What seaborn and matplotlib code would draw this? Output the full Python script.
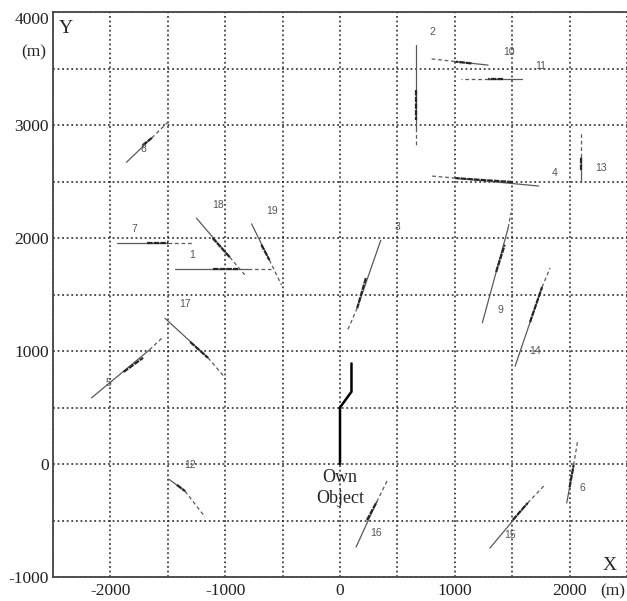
import numpy as np
import pandas as pd
import matplotlib
matplotlib.use("Agg")
import matplotlib.pyplot as plt
import seaborn as sns

# track numbers and the points (metres)
# p0 = start of solid part, p1/p2 = dense (marked) part, p3 = end of solid, p4 = end of dashed
track_ids = ["8", "7", "1", "18", "19", "17", "5", "12", "3", "16",
             "15", "6", "14", "9", "2", "10", "11", "4", "13"]
x0 = [-1860, -1940, -1440, -1250, -770, -1525, -2165, -1490, 355, 140,
      1305, 1975, 1525, 1240, 660, 1290, 1585, 1730, 2095]
y0 = [2670, 1955, 1725, 2175, 2125, 1290, 585, -135, 1980, -735,
      -745, -345, 865, 1250, 3710, 3530, 3407, 2460, 2495]
x1 = [-1720, -1680, -1110, -1110, -685, -1305, -1885, -1420, 225, 235,
      1505, 2000, 1655, 1360, 660, 1145, 1420, 1505, 2095]
y1 = [2820, 1955, 1725, 2000, 1940, 1080, 815, -185, 1645, -495,
      -495, -205, 1255, 1700, 3310, 3545, 3407, 2495, 2600]
x2 = [-1640, -1500, -890, -960, -615, -1150, -1715, -1350, 150, 320,
      1635, 2035, 1760, 1435, 660, 1010, 1290, 1005, 2095]
y2 = [2885, 1955, 1725, 1830, 1805, 940, 940, -240, 1380, -335,
      -345, -10, 1565, 1940, 3045, 3560, 3407, 2530, 2715]
x3 = [-1640, -1500, -805, -960, -615, -1150, -1660, -1350, 150, 320,
      1635, 2035, 1760, 1465, 660, 1000, 1290, 1005, 2095]
y3 = [2885, 1955, 1725, 1830, 1805, 940, 1010, -240, 1380, -335,
      -345, -10, 1565, 2090, 2975, 3562, 3407, 2530, 2715]
x4 = [-1500, -1270, -600, -830, -510, -1015, -1540, -1175, 60, 415,
      1775, 2070, 1830, 1490, 660, 795, 1055, 780, 2095]
y4 = [3025, 1955, 1725, 1675, 1585, 780, 1125, -470, 1170, -140,
      -195, 205, 1735, 2225, 2815, 3585, 3407, 2550, 2930]
label_x = [-1715, -1790, -1290, -1065, -590, -1350, -2015, -1305, 500, 310,
           1480, 2115, 1700, 1395, 805, 1470, 1750, 1870, 2270]
label_y = [2790, 2080, 1850, 2290, 2240, 1415, 715, -10, 2095, -610,
           -630, -210, 1000, 1365, 3825, 3645, 3520, 2575, 2620]

own_x = [0, 0, 100, 100]
own_y = [0, 500, 640, 890]

x_ticks = [-2000, -1000, 0, 1000, 2000]
y_ticks = [-1000, 0, 1000, 2000, 3000, 4000]

rows = []
for i, t in enumerate(track_ids):
    rows.append((t + "s", "solid", x0[i], y0[i]))
    rows.append((t + "s", "solid", x3[i], y3[i]))
    rows.append((t + "m", "mark", x1[i], y1[i]))
    rows.append((t + "m", "mark", x2[i], y2[i]))
    rows.append((t + "d", "dash", x3[i], y3[i]))
    rows.append((t + "d", "dash", x4[i], y4[i]))
df = pd.DataFrame(rows, columns=["seg", "part", "x", "y"])

sns.set_theme(style="white")
plt.rcParams["font.family"] = ["Liberation Serif", "DejaVu Serif"]

fig = plt.figure(figsize=(6.27, 6.01), dpi=100)
ax = fig.add_axes([53 / 627, 24 / 601, 1 - 53 / 627, 565 / 601])

sns.lineplot(data=df, x="x", y="y", units="seg", estimator=None, sort=False,
             hue="part", style="part", size="part",
             palette={"solid": "#5a5a5a", "mark": "#262626", "dash": "#5a5a5a"},
             dashes={"solid": "", "mark": (2.5, 0.5), "dash": (3, 2.2)},
             sizes={"solid": 0.9, "mark": 1.6, "dash": 0.9},
             legend=False, ax=ax)

ax.plot(own_x, own_y, color="black", lw=1.8, solid_joinstyle="miter")

for t, lx, ly in zip(track_ids, label_x, label_y):
    ax.text(lx, ly, t, fontsize=7.5, color="#555555", ha="center", va="center",
            family=["Liberation Sans", "DejaVu Sans"])

ax.text(0, -215, "Own\nObject", fontsize=13, ha="center", va="center",
        linespacing=1.3)

ax.set_xlim(-2500, 2480)
ax.set_ylim(-1000, 4000)
ax.set_xticks(np.arange(-2500, 2501, 500), minor=True)
ax.set_yticks(np.arange(-1000, 4001, 500), minor=True)
ax.set_xticks(x_ticks)
ax.set_yticks(y_ticks)
ax.set_xticklabels([str(v) for v in x_ticks])
ax.set_yticklabels([str(v) for v in y_ticks])
ax.grid(which="both", color="#222222", linestyle=(0, (1.2, 1.8)), lw=1.1)
ax.tick_params(which="both", length=0, labelsize=12.5, colors="#222222")
ax.tick_params(axis="x", pad=4)
ax.tick_params(axis="y", pad=3)
for lab in ax.get_yticklabels():
    if lab.get_text() == "4000":
        lab.set_va("top")
ax.set_xlabel("")
ax.set_ylabel("")

for side in ["left", "top", "bottom"]:
    ax.spines[side].set_color("#444444")
    ax.spines[side].set_linewidth(1.3)
ax.spines["right"].set_visible(False)

ax.text(-2390, 3855, "Y", fontsize=14, ha="center", va="center")
ax.text(2345, -895, "X", fontsize=14, ha="center", va="center")
fig.text(34 / 627, 1 - 52 / 601, "(m)", fontsize=12.5, ha="center", va="center")
fig.text(613 / 627, 1 - 591 / 601, "(m)", fontsize=12.5, ha="center", va="center")

fig.savefig("out.png", dpi=100)
